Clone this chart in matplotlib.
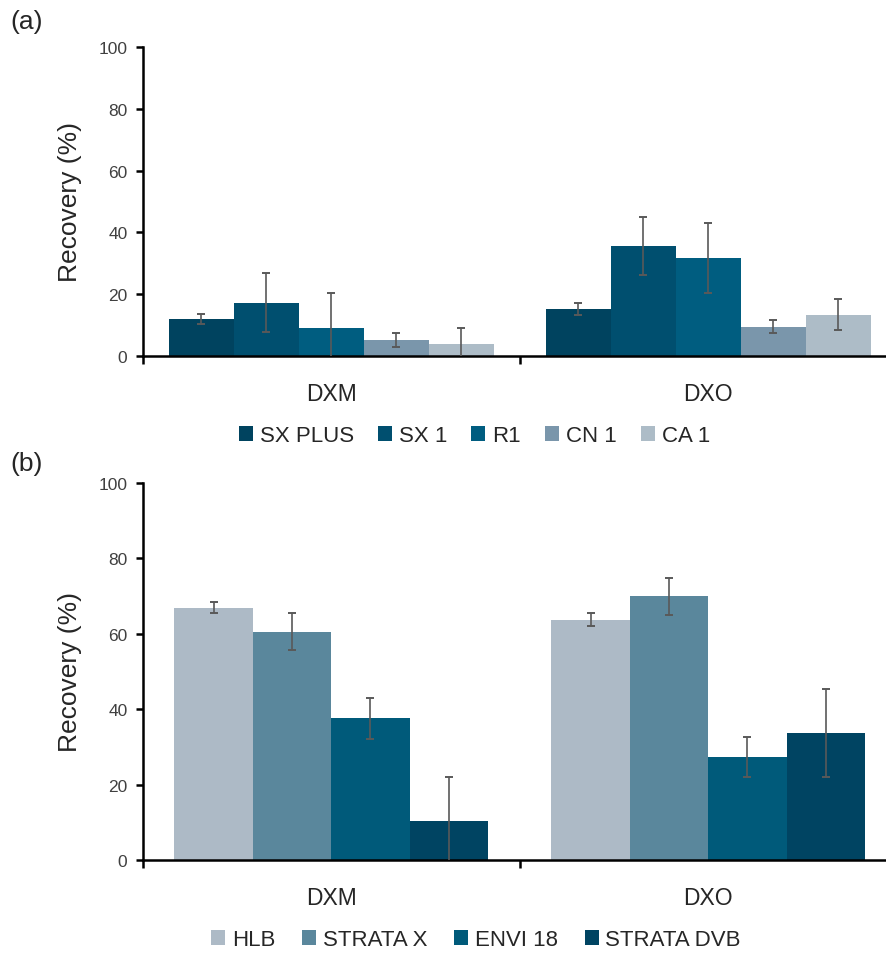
import matplotlib
matplotlib.use("Agg")
import matplotlib.pyplot as plt
import numpy as np
from matplotlib.patches import Patch

plt.rcParams['font.family'] = ['Liberation Sans', 'DejaVu Sans']

categories = ["DXM", "DXO"]

# Panel (a)
series_a = ["SX PLUS", "SX 1", "R1", "CN 1", "CA 1"]
values_a = [[12.0, 15.3], [17.3, 35.6], [9.0, 31.8], [5.2, 9.5], [3.8, 13.4]]
errors_a = [[1.7, 2.0], [9.4, 9.3], [11.4, 11.3], [2.2, 2.2], [5.1, 4.9]]
colors_a = ["#00435f", "#004f6f", "#005d80", "#7a96ab", "#adbcc7"]

# Panel (b)
series_b = ["HLB", "STRATA X", "ENVI 18", "STRATA DVB"]
values_b = [[66.9, 63.7], [60.6, 70.0], [37.6, 27.3], [10.3, 33.7]]
errors_b = [[1.5, 1.7], [4.8, 4.9], [5.4, 5.2], [11.6, 11.7]]
colors_b = ["#adbac6", "#5a879c", "#005a7a", "#004462"]

yticks = [0, 20, 40, 60, 80, 100]

W, H = 886, 954
fig = plt.figure(figsize=(W / 100, H / 100), dpi=100)

def frac(left, top, right, bottom):
    return [left / W, 1 - bottom / H, (right - left) / W, (bottom - top) / H]

txt = "#262626"

def draw(ax, series, values, errors, colors, group_w):
    n = len(series)
    bw = group_w / n
    x = np.arange(len(categories))
    for i in range(n):
        pos = x - group_w / 2 + bw * (i + 0.5)
        ax.bar(pos, values[i], width=bw, color=colors[i], linewidth=0, zorder=2)
        ax.errorbar(pos, values[i], yerr=errors[i], fmt='none', ecolor='#595959',
                    elinewidth=1.2, capsize=3, capthick=1.4, zorder=3)
    ax.set_xlim(-0.5, 1.5)
    ax.set_ylim(0, 100)
    ax.set_yticks(yticks)
    ax.set_yticklabels([str(v) for v in yticks], fontsize=12.5, color="#404040")
    ax.set_xticks(x)
    ax.set_xticklabels(categories, fontsize=16.5, color=txt)
    ax.tick_params(axis='x', which='major', length=0, pad=19)
    ax.set_xticks([-0.5, 0.5, 1.5], minor=True)
    ax.tick_params(axis='x', which='minor', length=6, width=1.8, direction='out')
    ax.tick_params(axis='y', length=5, width=1.8, direction='out', pad=6)
    for s in ['top', 'right']:
        ax.spines[s].set_visible(False)
    for s in ['left', 'bottom']:
        ax.spines[s].set_linewidth(1.8)
        ax.spines[s].set_color('black')
    ax.set_ylabel("Recovery (%)", fontsize=19, color=txt, labelpad=12)

ax1 = fig.add_axes(frac(142.7, 48, 896.7, 357))
draw(ax1, series_a, values_a, errors_a, colors_a, 0.862)
ax2 = fig.add_axes(frac(142.7, 484, 896.7, 861))
draw(ax2, series_b, values_b, errors_b, colors_b, 0.832)

fig.text(10 / W, 1 - 22 / H, "(a)", fontsize=19, color=txt, va='center', ha='left')
fig.text(10 / W, 1 - 464 / H, "(b)", fontsize=19, color=txt, va='center', ha='left')

h_a = [Patch(facecolor=c, edgecolor='none') for c in colors_a]
fig.legend(h_a, series_a, loc='center', bbox_to_anchor=(474.5 / W, 1 - 437 / H), ncol=5,
           frameon=False, fontsize=16, handlelength=0.63, handleheight=0.63,
           handletextpad=0.31, columnspacing=1.08, labelcolor=txt)
h_b = [Patch(facecolor=c, edgecolor='none') for c in colors_b]
fig.legend(h_b, series_b, loc='center', bbox_to_anchor=(476 / W, 1 - 941 / H), ncol=4,
           frameon=False, fontsize=16, handlelength=0.63, handleheight=0.63,
           handletextpad=0.31, columnspacing=1.2, labelcolor=txt)

fig.savefig("out.png", dpi=100)
